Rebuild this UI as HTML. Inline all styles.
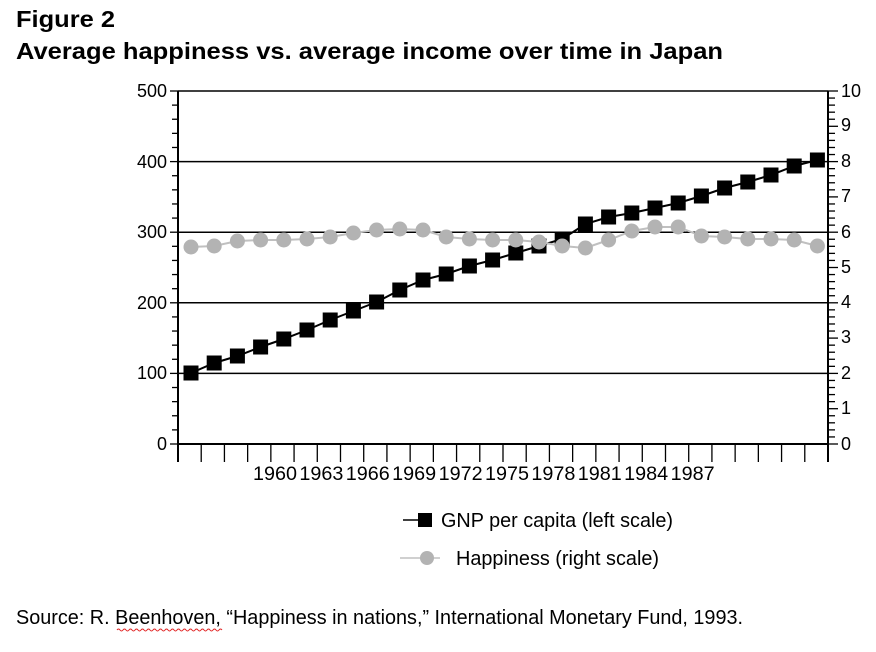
<!DOCTYPE html>
<html><head><meta charset="utf-8"><style>
html,body{margin:0;padding:0;background:#fff;}
svg{display:block;font-family:"Liberation Sans",Arial,sans-serif;}
</style></head><body>
<svg width="876" height="652" viewBox="0 0 876 652" xmlns="http://www.w3.org/2000/svg">
<text x="16" y="27" font-size="23" font-weight="bold" textLength="99" lengthAdjust="spacingAndGlyphs">Figure 2</text>
<text x="16" y="59" font-size="23" font-weight="bold" textLength="707" lengthAdjust="spacingAndGlyphs">Average happiness vs. average income over time in Japan</text>
<g stroke="#000" stroke-width="1.5">
<line x1="178" y1="91" x2="828" y2="91"/>
<line x1="178" y1="161.6" x2="828" y2="161.6"/>
<line x1="178" y1="232.2" x2="828" y2="232.2"/>
<line x1="178" y1="302.8" x2="828" y2="302.8"/>
<line x1="178" y1="373.4" x2="828" y2="373.4"/>
<line x1="178" y1="444" x2="828" y2="444" stroke-width="2"/>
<line x1="178" y1="91" x2="178" y2="462" stroke-width="2"/>
<line x1="828" y1="91" x2="828" y2="462" stroke-width="2"/>
</g>
<g id="t" stroke="#000" stroke-width="1.3"></g>
<g font-size="18" text-anchor="end">
<text x="167" y="97">500</text><text x="167" y="168">400</text><text x="167" y="238">300</text><text x="167" y="309">200</text><text x="167" y="379">100</text><text x="167" y="450">0</text>
</g>
<g font-size="18">
<text x="841" y="97">10</text><text x="841" y="131">9</text><text x="841" y="167">8</text><text x="841" y="202">7</text><text x="841" y="238">6</text><text x="841" y="273">5</text><text x="841" y="308">4</text><text x="841" y="343">3</text><text x="841" y="379">2</text><text x="841" y="414">1</text><text x="841" y="450">0</text>
</g>
<g font-size="19" text-anchor="middle">
<text x="275" y="480" textLength="44" lengthAdjust="spacingAndGlyphs">1960</text><text x="321.4" y="480" textLength="44" lengthAdjust="spacingAndGlyphs">1963</text><text x="367.8" y="480" textLength="44" lengthAdjust="spacingAndGlyphs">1966</text><text x="414.2" y="480" textLength="44" lengthAdjust="spacingAndGlyphs">1969</text><text x="460.6" y="480" textLength="44" lengthAdjust="spacingAndGlyphs">1972</text><text x="507" y="480" textLength="44" lengthAdjust="spacingAndGlyphs">1975</text><text x="553.4" y="480" textLength="44" lengthAdjust="spacingAndGlyphs">1978</text><text x="599.8" y="480" textLength="44" lengthAdjust="spacingAndGlyphs">1981</text><text x="646.2" y="480" textLength="44" lengthAdjust="spacingAndGlyphs">1984</text><text x="692.6" y="480" textLength="44" lengthAdjust="spacingAndGlyphs">1987</text>
</g>
<g id="s"></g>
<g id="c"></g>
<line x1="403" y1="520" x2="425" y2="520" stroke="#000" stroke-width="1.5"/>
<rect x="418" y="513" width="14" height="14" fill="#000"/>
<text x="441" y="527" font-size="20" textLength="232" lengthAdjust="spacingAndGlyphs">GNP per capita (left scale)</text>
<line x1="400" y1="558" x2="440" y2="558" stroke="#c0c0c0" stroke-width="1.5"/>
<circle cx="427" cy="558" r="7" fill="#b3b3b3"/>
<text x="456" y="565" font-size="20" textLength="203" lengthAdjust="spacingAndGlyphs">Happiness (right scale)</text>
<text x="16" y="624" font-size="20" textLength="727" lengthAdjust="spacingAndGlyphs">Source: R. Beenhoven, “Happiness in nations,” International Monetary Fund, 1993.</text>
<path d="M117 630 q1.5 -2 3 0 t3 0 t3 0 t3 0 t3 0 t3 0 t3 0 t3 0 t3 0 t3 0 t3 0 t3 0 t3 0 t3 0 t3 0 t3 0 t3 0 t3 0 t3 0 t3 0 t3 0 t3 0 t3 0 t3 0 t3 0 t3 0 t3 0 t3 0 t3 0 t3 0 t3 0 t3 0 t3 0 t3 0 t3 0" fill="none" stroke="#e02020" stroke-width="1"/>
</svg>
<script>
var NS="http://www.w3.org/2000/svg";
function el(p,n,a){var e=document.createElementNS(NS,n);for(var k in a)e.setAttribute(k,a[k]);p.appendChild(e);return e;}
var t=document.getElementById('t');
for(var v=0;v<=500;v+=20){var y=444-v*0.706;var L=(v%100==0)?8:6;el(t,'line',{x1:178-L,y1:y,x2:178,y2:y});}
for(var i=0;i<=50;i++){var y=444-i*7.06;var L=(i%5==0)?10:7;el(t,'line',{x1:828,y1:y,x2:828+L,y2:y});}
for(var i=0;i<=28;i++){var x=178+23.214*i;el(t,'line',{x1:x,y1:444,x2:x,y2:462});}
var sy=[373,363,356,347,339,330,320,311,302,290,280,274,266,260,253,246,239,224,217,213,208,203,196,188,182,175,166,160];
var cy=[247,246,241,240,240,239,237,233,230,229,230,237,239,240,240,242,246,248,240,231,227,227,236,237,239,239,240,246];
var s=document.getElementById('s'),c=document.getElementById('c');
var ps=[],pc=[];
for(var i=0;i<28;i++){var x=191+23.2*i;ps.push(x+','+sy[i]);pc.push(x+','+cy[i]);}
el(s,'polyline',{points:ps.join(' '),fill:'none',stroke:'#000','stroke-width':2});
for(var i=0;i<28;i++){var x=191+23.2*i;el(s,'rect',{x:x-7.5,y:sy[i]-7.5,width:15,height:15,fill:'#000'});}
el(c,'polyline',{points:pc.join(' '),fill:'none',stroke:'#c0c0c0','stroke-width':2});
for(var i=0;i<28;i++){var x=191+23.2*i;el(c,'circle',{cx:x,cy:cy[i],r:7.5,fill:'#b3b3b3'});}
</script>
</body></html>
